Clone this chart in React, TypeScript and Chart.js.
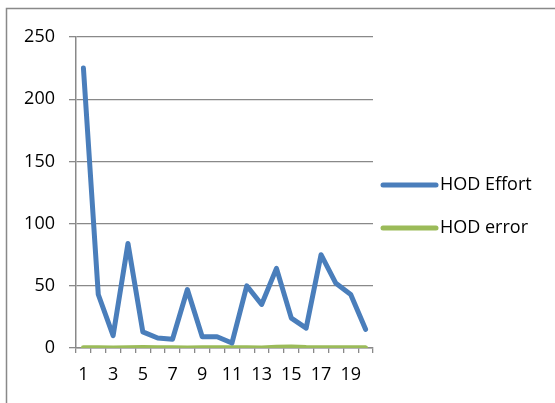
import React, { useEffect, useRef } from "react";
import { Chart, registerables } from "chart.js";

Chart.register(...registerables);

const categories = ["1","2","3","4","5","6","7","8","9","10","11","12","13","14","15","16","17","18","19","20"];
const hodEffort = [225, 43, 10, 84, 13, 8, 7, 47, 9, 9, 4, 50, 35, 64, 24, 16, 75, 52, 43, 15];
const hodError = [0.3, 0.2, 0.1, 0.3, 0.4, 0.3, 0.2, 0.1, 0.2, 0.3, 0.2, 0.3, 0.1, 0.6, 0.9, 0.4, 0.3, 0.2, 0.3, 0.2];
const yTicks = [0, 50, 100, 150, 200, 250];

const BLUE = "#4a7ebb";
const GREEN = "#9bbb59";
const GRID = "#898989";
const FONT = "'Open Sans', sans-serif";

// Outer frame (left and top edges only) plus the right-hand legend
const framePlugin = {
  id: "frameAndLegend",
  beforeDraw(chart: any) {
    const ctx = chart.ctx;
    ctx.save();
    ctx.fillStyle = "#ffffff";
    ctx.fillRect(0, 0, chart.width, chart.height);
    ctx.strokeStyle = GRID;
    ctx.lineWidth = 1.5;
    ctx.beginPath();
    ctx.moveTo(6.5, chart.height);
    ctx.lineTo(6.5, 8.5);
    ctx.lineTo(chart.width, 8.5);
    ctx.stroke();
    ctx.restore();
  },
  afterDraw(chart: any) {
    const ctx = chart.ctx;
    const items = chart.data.datasets.map((d: any) => ({ label: d.label, color: d.borderColor }));
    const rows = [185, 228];
    ctx.save();
    items.forEach((it: any, i: number) => {
      const y = rows[i];
      ctx.strokeStyle = it.color;
      ctx.lineWidth = 5;
      ctx.lineCap = "round";
      ctx.beginPath();
      ctx.moveTo(383, y);
      ctx.lineTo(436, y);
      ctx.stroke();
      ctx.fillStyle = "#000000";
      ctx.font = `18px ${FONT}`;
      ctx.textBaseline = "middle";
      ctx.textAlign = "left";
      ctx.fillText(it.label, 440, y);
    });
    ctx.restore();
  },
};

export default function App() {
  const ref = useRef<HTMLCanvasElement | null>(null);

  useEffect(() => {
    if (!ref.current) return;
    const chart = new Chart(ref.current, {
      type: "line",
      data: {
        labels: categories,
        datasets: [
          {
            label: "HOD Effort",
            data: hodEffort,
            borderColor: BLUE,
            backgroundColor: BLUE,
            borderWidth: 5,
            pointRadius: 0,
            tension: 0,
            borderJoinStyle: "round",
            borderCapStyle: "round",
          },
          {
            label: "HOD error",
            data: hodError,
            borderColor: GREEN,
            backgroundColor: GREEN,
            borderWidth: 5,
            pointRadius: 0,
            tension: 0,
            borderJoinStyle: "round",
            borderCapStyle: "round",
          },
        ],
      },
      options: {
        responsive: false,
        animation: false,
        layout: { padding: { left: 0, right: 182, top: 37, bottom: 0 } },
        plugins: {
          legend: { display: false },
          tooltip: { enabled: false },
        },
        scales: {
          x: {
            offset: true,
            grid: {
              drawOnChartArea: false,
              drawTicks: true,
              tickLength: 5,
              offset: true,
              color: GRID,
              lineWidth: 1.3,
            },
            border: { color: GRID, width: 1.5 },
            ticks: {
              autoSkip: false,
              maxRotation: 0,
              color: "#000000",
              font: { family: FONT, size: 18 },
              padding: 11,
              callback: (_v: any, i: number) => (i % 2 === 0 ? categories[i] : ""),
            },
            afterFit: (scale: any) => {
              scale.height = 55;
            },
          },
          y: {
            min: yTicks[0],
            max: yTicks[yTicks.length - 1],
            grid: {
              color: GRID,
              lineWidth: 1.3,
              drawTicks: true,
              tickLength: 7,
            },
            border: { color: GRID, width: 1.5 },
            afterBuildTicks: (scale: any) => {
              scale.ticks = yTicks.map((v) => ({ value: v }));
            },
            ticks: {
              color: "#000000",
              font: { family: FONT, size: 18 },
              padding: 14,
            },
            afterFit: (scale: any) => {
              scale.width = 76;
            },
          },
        },
      },
      plugins: [framePlugin],
    });
    return () => chart.destroy();
  }, []);

  return (
    <div style={{ position: "absolute", left: 0, top: 0, width: 555, height: 403 }}>
      <canvas ref={ref} width={555} height={403} style={{ display: "block" }} />
    </div>
  );
}
